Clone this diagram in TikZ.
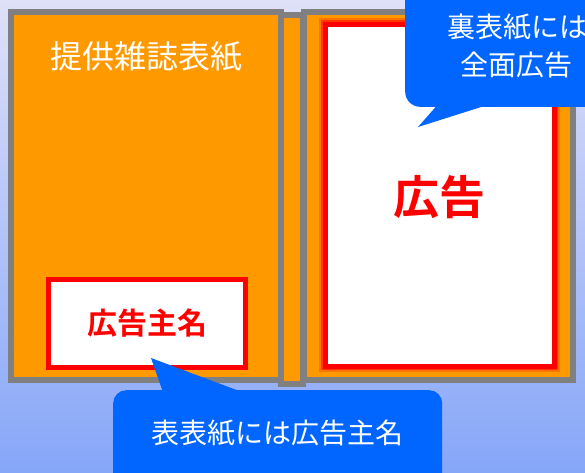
\documentclass[tikz,border=0pt]{standalone}
\usepackage{fontspec}
\newfontfamily\jp{Noto Sans CJK JP}[BoldFont={Noto Sans CJK JP Bold}]
\definecolor{bgtop}{RGB}{222,225,248}
\definecolor{bgbot}{RGB}{134,166,248}
\definecolor{cover}{RGB}{255,153,0}
\definecolor{edge}{RGB}{128,128,128}
\definecolor{bubble}{RGB}{0,102,255}
\tikzset{
  coverbox/.style={draw=edge, fill=cover, line width=6pt},
  adbox/.style={draw=red, fill=white, line width=5pt},
  bubblefill/.style={fill=bubble, draw=none},
  whitetext/.style={text=white, font=\jp\fontsize{#1}{#1}\selectfont, inner sep=0pt},
  redtext/.style={text=red, font=\jp\bfseries\fontsize{#1}{#1}\selectfont, inner sep=0pt},
}
\begin{document}
\begin{tikzpicture}[x=1pt,y=-1pt]
\useasboundingbox (0,0) rectangle (585,472);
\shade[top color=bgtop, bottom color=bgbot] (0,0) rectangle (585,472);
% spine and covers
\draw[coverbox] (281,15) rectangle (303,384);
\draw[coverbox] (11,12) rectangle (281,380);
\draw[coverbox] (304,12) rectangle (573,380);
% right cover full-page ad with glow
\draw[red, opacity=0.25, line width=12pt] (325,24) rectangle (554,366);
\draw[red, opacity=0.5, line width=8pt] (325,24) rectangle (554,366);
\draw[red, fill=white, line width=5pt] (325,24) rectangle (554,366);
% advertiser box on front cover
\draw[adbox] (48.5,279.5) rectangle (245.5,367.5);
% texts on covers
\node[whitetext=32] (title) at (146,57) {提供雑誌表紙};
\node[redtext=30] (adv) at (147,323) {広告主名};
\node[redtext=46] (ad) at (439,197) {広告};
% bottom bubble
\node[bubblefill, rounded corners=13pt, minimum width=329pt, minimum height=100pt, anchor=north west, inner sep=0pt] (b1) at (113,390) {};
\coordinate (t1) at (151,358);
\fill[bubble] (t1) -- (164,395) -- (250,395) -- cycle;
\node[whitetext=28] (b1text) at (277,433) {表表紙には広告主名};
% top bubble
\node[bubblefill, rounded corners=15pt, minimum width=200pt, minimum height=130pt, anchor=south west, inner sep=0pt] (b2) at (405,107) {};
\coordinate (t2) at (418,127);
\fill[bubble] (t2) -- (440,102) -- (497,102) -- cycle;
\node[whitetext=28, align=center] (b2text1) at (517,27) {裏表紙には};
\node[whitetext=28, align=center] (b2text2) at (516,65) {全面広告};
\end{tikzpicture}
\end{document}
